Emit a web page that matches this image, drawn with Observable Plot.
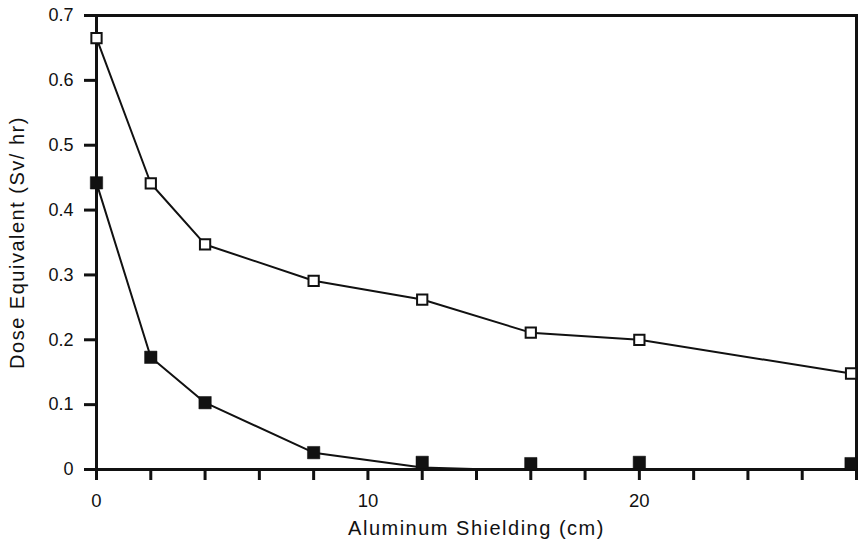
<!DOCTYPE html>
<html>
<head>
<meta charset="utf-8">
<script src="https://cdn.jsdelivr.net/npm/d3@7"></script>
<script src="https://cdn.jsdelivr.net/npm/@observablehq/plot@0.6"></script>
<style>
  body { margin: 0; background: #fff; }
  svg { font-family: "Liberation Sans", Arial, sans-serif; }
  #chart svg g[aria-label="x-axis tick label"] text { font-size: 18.5px; }
  #chart svg g[aria-label="y-axis tick label"] text { font-size: 18px; }
  #chart svg g[aria-label="x-axis label"] text,
  #chart svg g[aria-label="y-axis label"] text { font-size: 20px; letter-spacing: 1.5px; }
</style>
</head>
<body>
<div id="chart"></div>
<script>
// Aluminum shielding thickness (cm)
const shielding = [0, 2, 4, 8, 12, 16, 20, 27.8];
// Open squares series (Sv/hr)
const openDose = [0.665, 0.441, 0.347, 0.291, 0.262, 0.211, 0.200, 0.148];
// Filled squares series (Sv/hr)
const filledDose = [0.442, 0.173, 0.103, 0.026, 0.011, 0.009, 0.011, 0.009];
// Line drawn through the filled series (ends on the axis)
const filledLineX = [0, 2, 4, 8, 12, 14.5];
const filledLineY = [0.442, 0.173, 0.103, 0.026, 0.003, 0.0];
// Ticks
const xTicks = [0, 2, 4, 6, 8, 10, 12, 14, 16, 18, 20, 22, 24, 26, 28];
const xLabeled = [0, 10, 20];
const yTicks = [0, 0.1, 0.2, 0.3, 0.4, 0.5, 0.6, 0.7];

const openData = shielding.map((x, i) => ({x, y: openDose[i]}));
const filledData = shielding.map((x, i) => ({x, y: filledDose[i]}));
const lineData = filledLineX.map((x, i) => ({x, y: filledLineY[i]}));

const ink = "#111";

const chart = Plot.plot({
  width: 860,
  height: 542,
  marginLeft: 96,
  marginRight: 4,
  marginTop: 15,
  marginBottom: 73,
  style: {fontFamily: "'Liberation Sans', Arial, sans-serif", fontSize: "18px", color: ink, background: "#fff"},
  x: {domain: [0, 28]},
  y: {domain: [0, 0.7]},
  marks: [
    Plot.axisX({
      ticks: xTicks,
      tickSize: 11,
      tickPadding: 13,
      strokeWidth: 3,
      stroke: ink,
      fontSize: 18.5,
      tickFormat: d => xLabeled.includes(d) ? String(d) : "",
      label: "Aluminum Shielding (cm)",
      labelAnchor: "center",
      labelArrow: "none",
      labelOffset: 65
    }),
    Plot.axisY({
      ticks: yTicks,
      tickSize: 12,
      tickPadding: 11,
      strokeWidth: 3,
      stroke: ink,
      fontSize: 18,
      tickFormat: d => d === 0 ? "0" : d.toFixed(1),
      label: "Dose Equivalent (Sv/ hr)",
      labelAnchor: "center",
      labelArrow: "none",
      labelOffset: 87
    }),
    Plot.line(openData, {x: "x", y: "y", stroke: ink, strokeWidth: 2}),
    Plot.line(lineData, {x: "x", y: "y", stroke: ink, strokeWidth: 2}),
    Plot.frame({stroke: ink, strokeWidth: 3}),
    Plot.dot(openData, {x: "x", y: "y", symbol: "square", r: 5.8, fill: "#fff", stroke: ink, strokeWidth: 2}),
    Plot.dot(filledData, {x: "x", y: "y", symbol: "square", r: 7, fill: ink, stroke: ink, strokeWidth: 0.5})
  ]
});

document.getElementById("chart").appendChild(chart);
</script>
</body>
</html>
